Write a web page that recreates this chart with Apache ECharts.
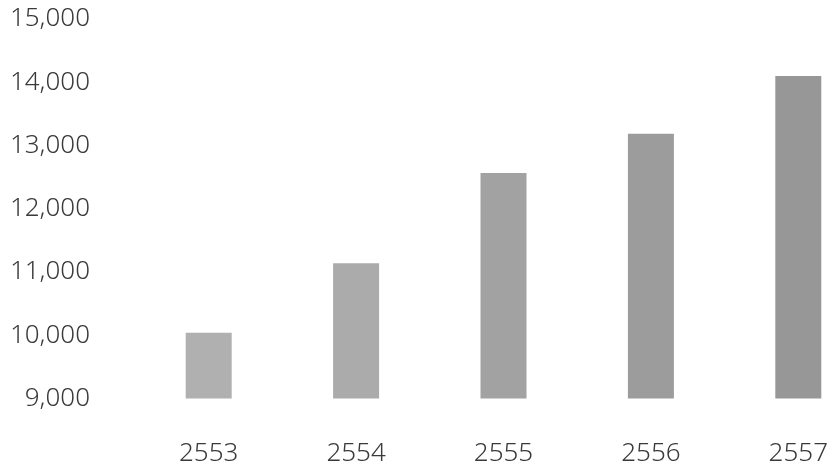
<html>
<head>
  <meta charset="utf-8">
  <script src="https://cdn.jsdelivr.net/npm/echarts@6/dist/echarts.min.js"></script>
  <style>
    html, body { margin: 0; width: 100%; height: 100%; background: #fff; overflow: hidden; }
    /* the scanned chart is cropped on the right, so the canvas runs past the window */
    #chart { width: 872px; height: 470px; }
  </style>
</head>
<body>
  <div id="chart"></div>
  <script>
    // data
    var years = ['2553', '2554', '2555', '2556', '2557'];
    var values = [10040, 11140, 12565, 13185, 14100];
    var yTicks = [9000, 15000, 1000]; // min, max, step

    var barColors = ['#b0b0b0', '#ababab', '#a2a2a2', '#9c9c9c', '#979797'];

    var myChart = echarts.init(document.getElementById('chart'));
    var option = {
      animation: false,
      grid: { left: 135, top: 19, bottom: 71.5, right: 0 },
      xAxis: {
        type: 'category',
        data: years,
        axisLine: { show: false },
        axisTick: { show: false },
        axisLabel: {
          margin: 42,
          fontFamily: 'Noto Sans',
          fontWeight: 300,
          fontSize: 26,
          color: '#3a3a3a'
        }
      },
      yAxis: {
        type: 'value',
        min: yTicks[0],
        max: yTicks[1],
        interval: yTicks[2],
        splitLine: { show: false },
        axisLine: { show: false },
        axisTick: { show: false },
        axisLabel: {
          margin: 45,
          fontFamily: 'Noto Sans',
          fontWeight: 300,
          fontSize: 26,
          color: '#3a3a3a',
          formatter: function (v) { return v.toLocaleString('en-US'); }
        }
      },
      series: [{
        type: 'bar',
        barWidth: 46,
        data: values.map(function (v, i) {
          return { value: v, itemStyle: { color: barColors[i] } };
        })
      }]
    };
    myChart.setOption(option);
  </script>
</body>
</html>
